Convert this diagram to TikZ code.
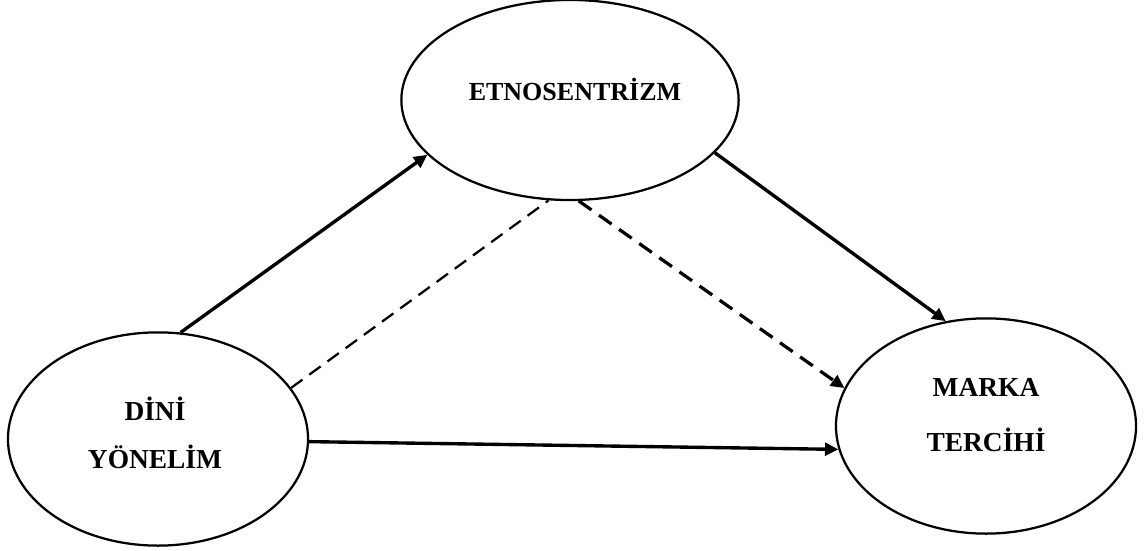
\documentclass[tikz,border=0pt]{standalone}
\usepackage{fontspec}
\setmainfont{Liberation Serif}
\usepackage{tikz}
\usetikzlibrary{shapes.geometric, arrows.meta}
\tikzset{
  oval/.style={ellipse, draw, line width=1.6pt, inner sep=0pt},
  var label/.style={font=\bfseries, align=center},
  solid arrow/.style={line width=2.4pt, -{Triangle[length=9.5pt,width=9pt]}},
  dash arrow/.style={line width=2.3pt, dash pattern=on 11pt off 6.5pt, -{Triangle[length=9.5pt,width=9pt]}},
  dash line/.style={line width=1.6pt, dash pattern=on 10pt off 6pt}
}

\begin{document}
\begin{tikzpicture}[x=0.025cm, y=-0.025cm]
\useasboundingbox (0,0) rectangle (1144,551);

%ellipses
\node[oval, minimum width=8.43cm, minimum height=5cm] (etno) at (570,100) {};
\node[oval, minimum width=7.5cm, minimum height=5.33cm] (dini) at (158,439) {};
\node[oval, minimum width=7.5cm, minimum height=5.38cm] (marka) at (986,426) {};

%labels
\node[var label, font=\fontsize{18.5}{34}\selectfont\bfseries] (etnotext) at (575,89) {ETNOSENTRİZM};
\node[var label, font=\fontsize{19.5}{34}\selectfont\bfseries] (dinitext) at (155,433) {DİNİ\\YÖNELİM};
\node[var label, font=\fontsize{19.5}{39}\selectfont\bfseries] (markatext) at (986,415) {MARKA\\TERCİHİ};

%arrows
\draw[solid arrow] (dini.78) -- (etno.201);
\draw[solid arrow] (etno.340) -- (marka.111);
\draw[dash line] (dini.21) -- (etno.258);
\draw[dash arrow] (etno.275) -- (marka.165);
\draw[solid arrow] (dini.359) -- (marka.189);

\end{tikzpicture}
\end{document}
